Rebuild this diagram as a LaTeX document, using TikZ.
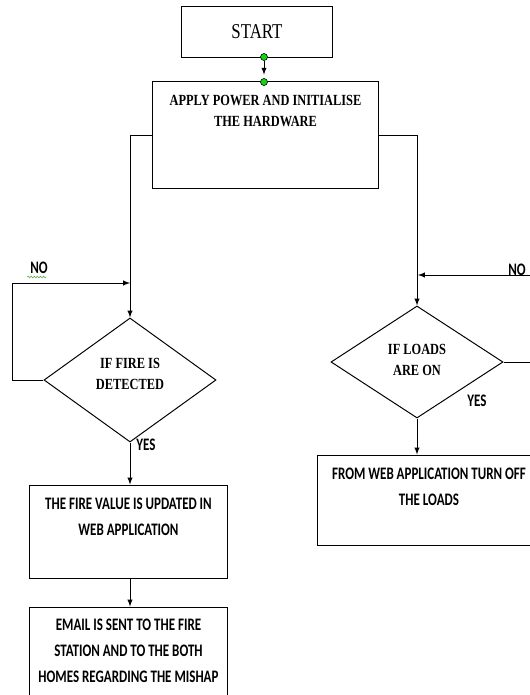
\documentclass[tikz,border=0pt]{standalone}
\usepackage{fontspec}
\setmainfont{Liberation Serif}
\newfontfamily\narrowserif[FakeStretch=0.8]{Liberation Serif}
\newfontfamily\calib[FakeStretch=0.74]{Carlito}
\usetikzlibrary{shapes.geometric,decorations.pathmorphing}
\definecolor{dotgreen}{RGB}{20,210,20}
\definecolor{wavegreen}{RGB}{90,170,60}

\begin{document}
\begin{tikzpicture}[x=0.025cm,y=-0.025cm,>=latex,line width=0.7pt,
    box/.style={rectangle,draw,inner sep=0pt},
    cond/.style={diamond,draw,inner sep=0pt},
    serif text/.style={align=center,font=\narrowserif\bfseries\fontsize{11}{14.5}\selectfont},
    cond text/.style={align=center,font=\narrowserif\bfseries\fontsize{11}{15.5}\selectfont},
    sans text/.style={align=center,font=\calib\bfseries\fontsize{12.5}{18.5}\selectfont},
    tag/.style={font=\calib\bfseries\fontsize{12.5}{14}\selectfont},
    dot/.style={circle,draw,fill=dotgreen,inner sep=0pt,minimum size=5pt,line width=0.4pt}]
    \useasboundingbox (0,0) rectangle (530,695);
    \clip (0,0) rectangle (530,695);

    \node[box,minimum width=3.75cm,minimum height=1.25cm,font=\narrowserif\fontsize{15}{17}\selectfont] (start) at (257,32) {START};
    \node[box,minimum width=5.625cm,minimum height=2.65cm,
          label={[serif text,anchor=north,yshift=-0.22cm]north:APPLY POWER AND INITIALISE\\THE HARDWARE}] (apply) at (265.5,135) {};
    \node[cond,minimum width=4.3cm,minimum height=3.1cm,
          label={[cond text,yshift=0.15cm]center:IF FIRE IS\\DETECTED}] (fire) at (130,380) {};
    \node[cond,minimum width=4.3cm,minimum height=2.8cm,
          label={[cond text,yshift=0.05cm]center:IF LOADS\\ARE ON}] (loads) at (417,362) {};
    \node[box,minimum width=4.925cm,minimum height=2.325cm,
          label={[sans text,anchor=north,yshift=-0.2cm]north:THE FIRE VALUE IS UPDATED IN\\WEB APPLICATION}] (update) at (128.5,531.5) {};
    \node[box,minimum width=4.925cm,minimum height=2.55cm,
          label={[sans text,anchor=north,yshift=-0.18cm]north:EMAIL IS SENT TO THE FIRE\\STATION AND TO THE BOTH\\HOMES REGARDING THE MISHAP}] (email) at (128.5,658) {};
    \node[box,minimum width=5.55cm,minimum height=2.25cm,
          label={[sans text,anchor=north,yshift=-0.2cm]north:FROM WEB APPLICATION TURN OFF\\THE LOADS}] (turnoff) at (429,500) {};

    % start -> apply
    \node[dot] (s1) at (264,57) {};
    \node[dot] (s2) at (264,82) {};
    \draw[->,shorten >=2.5pt] (s1) -- (s2);

    % branches
    \draw[->] (apply.west) -| (fire.north);
    \draw[->] (apply.east) -| (loads.north);

    % fire loop
    \coordinate (fjoin) at (130,283);
    \draw[->] (fire.west) -- ++(-31,0) |- (fjoin);
    \node[tag] (fno) at (39,268) {NO};
    \draw[wavegreen,line width=0.4pt,decorate,decoration={snake,amplitude=0.6pt,segment length=2.2pt}] (fno.south west)++(2,-2) -- ++(19,0);
    \draw[->] (fire.south) -- (fire.south |- update.north);
    \node[tag] (fyes) at (146,445) {YES};
    \draw[->] (update.south -| fire.south) -- (email.north -| fire.south);

    % loads loop
    \coordinate (lout) at (540,362);
    \coordinate (lin) at (540,275);
    \coordinate (ljoin) at (418,275);
    \draw (loads.east) -- (lout);
    \draw[->] (lin) -- (ljoin);
    \node[tag] (lno) at (517,270) {NO};
    \draw[->] (loads.south) -- (loads.south |- turnoff.north);
    \node[tag] (lyes) at (477,401) {YES};
\end{tikzpicture}
\end{document}
